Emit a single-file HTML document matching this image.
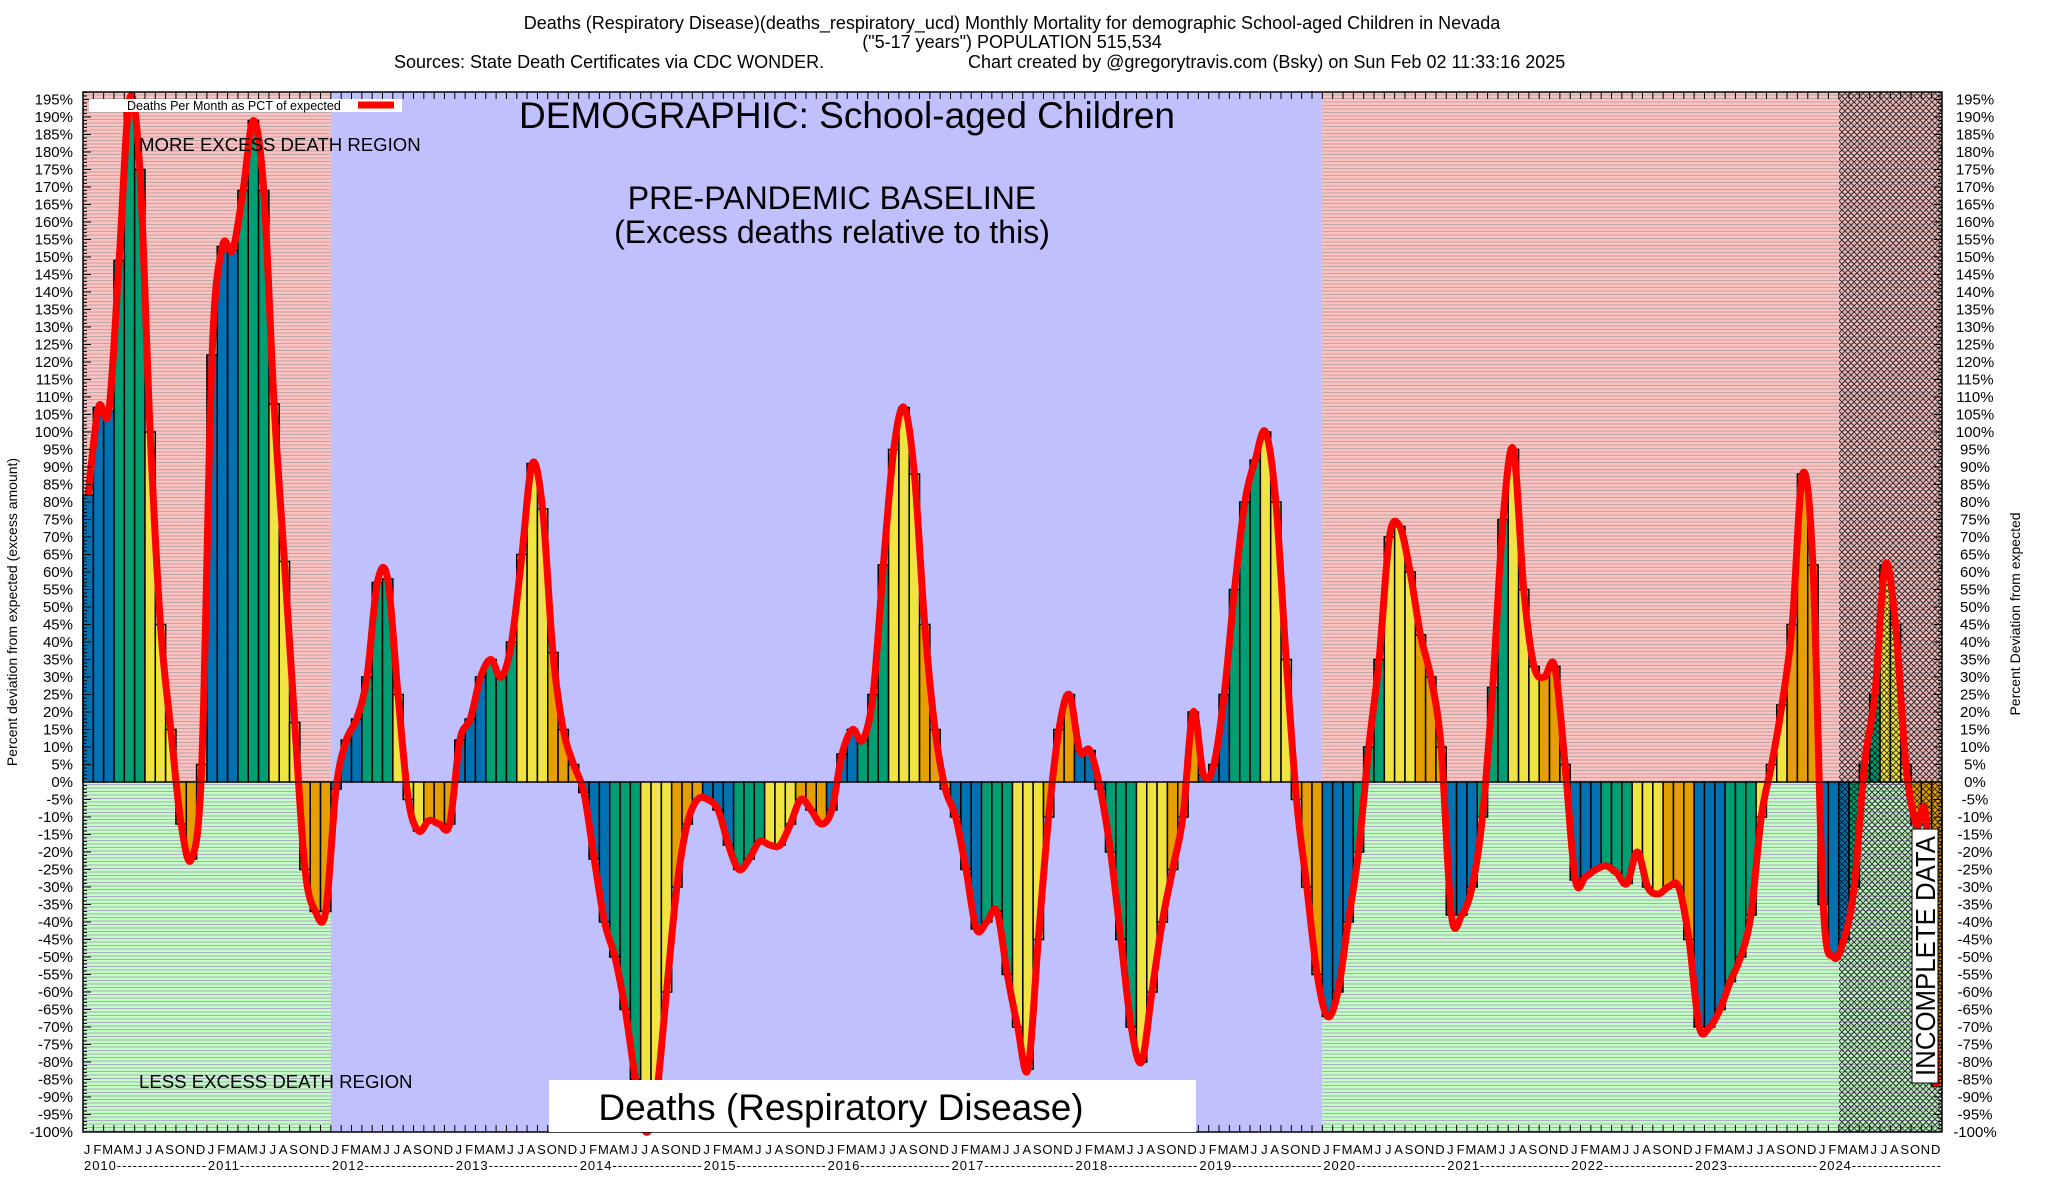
<!DOCTYPE html>
<html><head><meta charset="utf-8"><style>
html,body{margin:0;padding:0;background:#fff;}
svg{display:block;font-family:"Liberation Sans",Arial,sans-serif;}
</style></head><body>
<svg id="chart" width="2048" height="1200" viewBox="0 0 2048 1200" xmlns="http://www.w3.org/2000/svg">
<defs>
<pattern id="stripeP" width="10" height="3.5" patternUnits="userSpaceOnUse"><rect width="10" height="3.5" fill="#ffc0c0"/><rect width="10" height="1" fill="#b8a8a8"/></pattern>
<pattern id="stripeG" width="10" height="3.5" patternUnits="userSpaceOnUse"><rect width="10" height="3.5" fill="#c0ffc0"/><rect width="10" height="1" fill="#b0a8c8"/></pattern>
<pattern id="hatch" width="6" height="6" patternUnits="userSpaceOnUse"><path d="M0,0L6,6M6,0L0,6" stroke="#000" stroke-width="1" opacity="0.75"/></pattern>
</defs>
<g id="bg"></g>
<g id="bars"></g>
<g id="hatchg"></g>
<g id="line"></g>
<g id="axes"></g>
<g id="texts">
<text x="1012" y="29" font-size="18" text-anchor="middle">Deaths (Respiratory Disease)(deaths_respiratory_ucd) Monthly Mortality for demographic School-aged Children in Nevada</text>
<text x="1012" y="48" font-size="18" text-anchor="middle">("5-17 years") POPULATION 515,534</text>
<text x="394" y="68" font-size="18">Sources: State Death Certificates via CDC WONDER.</text>
<text x="968" y="68" font-size="18">Chart created by @gregorytravis.com (Bsky) on Sun Feb 02 11:33:16 2025</text>
<text x="847" y="128" font-size="37" text-anchor="middle">DEMOGRAPHIC: School-aged Children</text>
<text x="832" y="209" font-size="32" text-anchor="middle">PRE-PANDEMIC BASELINE</text>
<text x="832" y="243" font-size="32" text-anchor="middle">(Excess deaths relative to this)</text>
<text x="139" y="151" font-size="18.6">MORE EXCESS DEATH REGION</text>
<text x="139" y="1088" font-size="18.6">LESS EXCESS DEATH REGION</text>
<rect x="549" y="1080" width="647" height="52" fill="#fff"/>
<text x="841" y="1120" font-size="37" text-anchor="middle">Deaths (Respiratory Disease)</text>
<rect x="89" y="99" width="313" height="13" fill="#fff"/>
<text x="127" y="110" font-size="12.5">Deaths Per Month as PCT of expected</text>
<line x1="358" y1="105" x2="394" y2="105" stroke="#f00" stroke-width="7"/>
<rect x="1912" y="829" width="26" height="254" fill="#fff" stroke="#000" stroke-width="1"/>
<text transform="translate(1935,956) rotate(-90)" font-size="28" text-anchor="middle" textLength="240" lengthAdjust="spacingAndGlyphs">INCOMPLETE DATA</text>
<text transform="translate(17,612) rotate(-90)" font-size="14" text-anchor="middle">Percent deviation from expected (excess amount)</text>
<text transform="translate(2020,614) rotate(-90)" font-size="14" text-anchor="middle">Percent Deviation from expected</text>
</g>
</svg>
<script>
const years = ["2010","2011","2012","2013","2014","2015","2016","2017","2018","2019","2020","2021","2022","2023","2024"];
const monthLetters = ["J","F","M","A","M","J","J","A","S","O","N","D"];
const yTicks = [195,190,185,180,175,170,165,160,155,150,145,140,135,130,125,120,115,110,105,100,95,90,85,80,75,70,65,60,55,50,45,40,35,30,25,20,15,10,5,0,-5,-10,-15,-20,-25,-30,-35,-40,-45,-50,-55,-60,-65,-70,-75,-80,-85,-90,-95,-100];
const values = [
82,107,106,149,195,175,100,45,15,-12,-22,5,
122,153,152,169,189,169,108,63,17,-25,-37,-37,
-2,12,18,30,57,58,25,-5,-14,-11,-12,-12,
12,18,30,35,30,40,65,91,78,37,15,5,
-3,-22,-40,-50,-65,-85,-100,-90,-60,-30,-12,-5,
-5,-8,-18,-25,-22,-17,-18,-18,-12,-5,-8,-12,
-8,8,15,12,25,62,95,107,88,45,15,-2,
-10,-25,-42,-40,-37,-55,-70,-82,-45,-10,15,25,
9,9,-2,-20,-45,-70,-80,-60,-40,-25,-10,20,
2,5,25,55,80,92,100,80,35,-5,-30,-55,
-67,-60,-40,-20,10,35,70,73,60,42,30,10,
-38,-38,-30,-10,27,75,95,55,33,30,33,5,
-28,-27,-25,-24,-26,-29,-20,-30,-32,-30,-30,-45,
-70,-70,-65,-57,-50,-38,-10,5,22,45,88,62,
-35,-50,-45,-30,5,25,62,45,5,-12,-12,-87
];
const NS="http://www.w3.org/2000/svg";
const L=83,R=1942,T=92,B=1132,Y0=782,PX=3.5;
const MW=(R-L)/180;
function y(v){return Y0-v*PX;}
function x(i){return L+i*MW;}
function mk(tag,attrs,parent){const e=document.createElementNS(NS,tag);for(const k in attrs)e.setAttribute(k,attrs[k]);parent.appendChild(e);return e;}
const bg=document.getElementById('bg');
const regions=[[0,24,'p'],[24,120,'l'],[120,180,'p']];
regions.forEach(r=>{
  if(r[2]==='l'){
    const e=mk('rect',{x:x(r[0]),y:T,width:x(r[1])-x(r[0]),height:B-T,fill:'#c0c0ff'},bg);
    
    
  } else {
    const a=mk('rect',{x:x(r[0]),y:T,width:x(r[1])-x(r[0]),height:Y0-T,fill:'url(#stripeP)'},bg);
    
    
    const b=mk('rect',{x:x(r[0]),y:Y0,width:x(r[1])-x(r[0]),height:B-Y0,fill:'url(#stripeG)'},bg);
    
    
  }
});
const colors=['#0072b2','#0072b2','#0072b2','#009e73','#009e73','#009e73','#f0e442','#f0e442','#f0e442','#e69f00','#e69f00','#e69f00'];
const bars=document.getElementById('bars');
values.forEach((v,i)=>{
  const yy=y(v);
  const b=mk('rect',{x:x(i),y:Math.min(yy,Y0),width:MW,height:Math.abs(Y0-yy),fill:colors[i%12],stroke:'#000','stroke-width':1.5},bars);
  
  
});
const hg=document.getElementById('hatchg');
const h=mk('rect',{x:1839,y:T,width:R-1839,height:B-T,fill:'url(#hatch)'},hg);


const pts=values.map((v,i)=>[x(i)+MW/2,y(v)]);
let d='M'+pts[0][0]+','+pts[0][1];
for(let i=0;i<pts.length-1;i++){
  const p0=pts[Math.max(0,i-1)],p1=pts[i],p2=pts[i+1],p3=pts[Math.min(pts.length-1,i+2)];
  const c1=[p1[0]+(p2[0]-p0[0])/6,p1[1]+(p2[1]-p0[1])/6];
  const c2=[p2[0]-(p3[0]-p1[0])/6,p2[1]-(p3[1]-p1[1])/6];
  d+=' C'+c1[0]+','+c1[1]+' '+c2[0]+','+c2[1]+' '+p2[0]+','+p2[1];
}
const ln=mk('path',{d:d,fill:'none',stroke:'#f00','stroke-width':7,'stroke-linejoin':'round'},document.getElementById('line'));


const ax=document.getElementById('axes');
const fr=mk('rect',{x:L,y:T,width:R-L,height:B-T,fill:'none',stroke:'#000','stroke-width':1.5},ax);


const zl=mk('line',{x1:L,x2:R,y1:Y0,y2:Y0,stroke:'#000','stroke-width':1},ax);


for(let v=-100;v<=197;v++){
  const len=(v%5===0)?8:4;
  mk('line',{x1:L,x2:L+len,y1:y(v),y2:y(v),stroke:'#000','stroke-width':1},ax);
  mk('line',{x1:R-len,x2:R,y1:y(v),y2:y(v),stroke:'#000','stroke-width':1},ax);
}
yTicks.forEach(v=>{
  const t1=mk('text',{x:73,y:y(v)+5,'font-size':15,'text-anchor':'end'},ax);
  t1.textContent=v+'%';
  
  
  const t2=mk('text',{x:1975,y:y(v)+5,'font-size':15,'text-anchor':'middle'},ax);
  t2.textContent=v+'%';
  
  
});
for(let i=0;i<180;i++){
  mk('line',{x1:x(i),x2:x(i),y1:B,y2:B-7,stroke:'#000','stroke-width':1},ax);
  mk('line',{x1:x(i),x2:x(i),y1:T,y2:T+7,stroke:'#000','stroke-width':1},ax);
  const t=mk('text',{x:x(i)+4,y:1154,'font-size':13,'text-anchor':'middle'},ax);
  t.textContent=monthLetters[i%12];
  
  
}
years.forEach((yr,k)=>{
  const t=mk('text',{x:x(k*12)+1,y:1170,'font-size':13,textLength:MW*12-2,lengthAdjust:'spacing'},ax);
  t.textContent=yr+'-----------------';
  
  
});
</script>
</body></html>
